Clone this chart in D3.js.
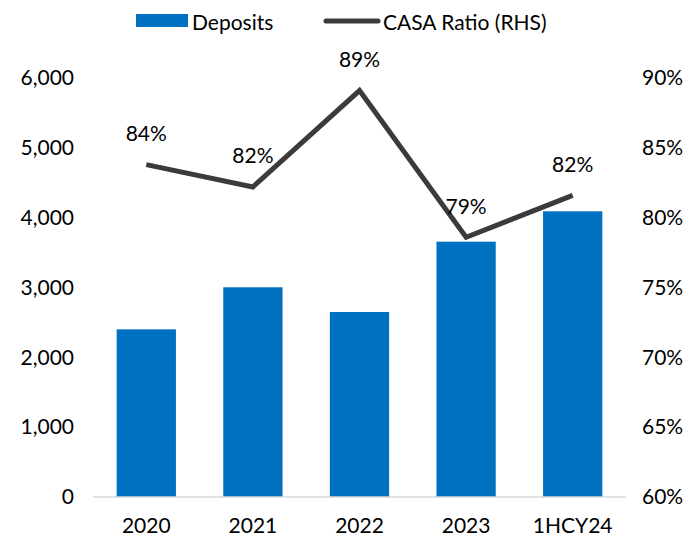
<!DOCTYPE html>
<html><head><meta charset="utf-8">
<script src="https://cdn.jsdelivr.net/npm/d3@7"></script>
<style>html,body{margin:0;padding:0;background:#fff;}svg{display:block;font-family:Lato,"Open Sans",sans-serif;}</style>
</head><body>
<script>
const categories = ["2020","2021","2022","2023","1HCY24"];
const deposits = [2401, 3003, 2649, 3656, 4091];
const casaRatio = [83.8, 82.2, 89.1, 78.6, 81.6];
const casaLabels = ["84%","82%","89%","79%","82%"];
const leftTicks = [0,1000,2000,3000,4000,5000,6000];
const rightTicks = [60,65,70,75,80,85,90];

const W=693,H=537;
const m={left:93,right:67,top:78,bottom:40};
const svg=d3.select("body").append("svg").attr("width",W).attr("height",H);
const x=d3.scaleBand().domain(categories).range([m.left,W-m.right]).paddingInner(0.444).paddingOuter(0.222);
const yL=d3.scaleLinear().domain([0,6000]).range([H-m.bottom,m.top]);
const yR=d3.scaleLinear().domain([60,90]).range([H-m.bottom,m.top]);
const fs=21;

svg.append("g").selectAll("rect").data(deposits).join("rect")
 .attr("x",(d,i)=>x(categories[i])).attr("width",x.bandwidth())
 .attr("y",d=>yL(d)).attr("height",d=>yL(0)-yL(d)).attr("fill","#0070C0");

svg.append("line").attr("x1",m.left).attr("x2",W-m.right).attr("y1",yL(0)).attr("y2",yL(0))
 .attr("stroke","#d9d9d9").attr("stroke-width",1.5);

const gl=svg.append("g").attr("transform",`translate(${m.left-19},0)`)
 .call(d3.axisLeft(yL).tickValues(leftTicks).tickFormat(d3.format(",")).tickSize(0));
const gr=svg.append("g").attr("transform",`translate(${W-m.right+16},0)`)
 .call(d3.axisRight(yR).tickValues(rightTicks).tickFormat(d=>d+"%").tickSize(0));
const gb=svg.append("g").attr("transform",`translate(0,${H-m.bottom+18})`)
 .call(d3.axisBottom(x).tickSize(0));
[gl,gr,gb].forEach(g=>{g.select(".domain").remove();
 g.selectAll("text").attr("font-size",fs).attr("font-family","Lato").attr("fill","#000");});
gl.selectAll("text").attr("x",0);
gr.selectAll("text").attr("x",0);

const line=d3.line().x((d,i)=>x(categories[i])+x.bandwidth()/2).y(d=>yR(d));
svg.append("path").datum(casaRatio).attr("d",line).attr("fill","none")
 .attr("stroke","#3b3b3b").attr("stroke-width",5).attr("stroke-linejoin","miter");

svg.append("g").selectAll("text").data(casaRatio).join("text")
 .attr("x",(d,i)=>x(categories[i])+x.bandwidth()/2).attr("y",d=>yR(d)-32)
 .attr("text-anchor","middle").attr("dominant-baseline","central")
 .attr("font-size",fs).attr("fill","#000").text((d,i)=>casaLabels[i]);

// legend
const lg=svg.append("g");
lg.append("rect").attr("x",136).attr("y",14).attr("width",52).attr("height",13).attr("fill","#0070C0");
lg.append("text").attr("x",192).attr("y",21).attr("dominant-baseline","central").attr("font-size",fs).text("Deposits");
lg.append("line").attr("x1",326).attr("x2",378).attr("y1",21).attr("y2",21).attr("stroke","#3b3b3b").attr("stroke-width",5).attr("stroke-linecap","round");
lg.append("text").attr("x",383).attr("y",21).attr("dominant-baseline","central").attr("font-size",fs).text("CASA Ratio (RHS)");
</script>
</body></html>
